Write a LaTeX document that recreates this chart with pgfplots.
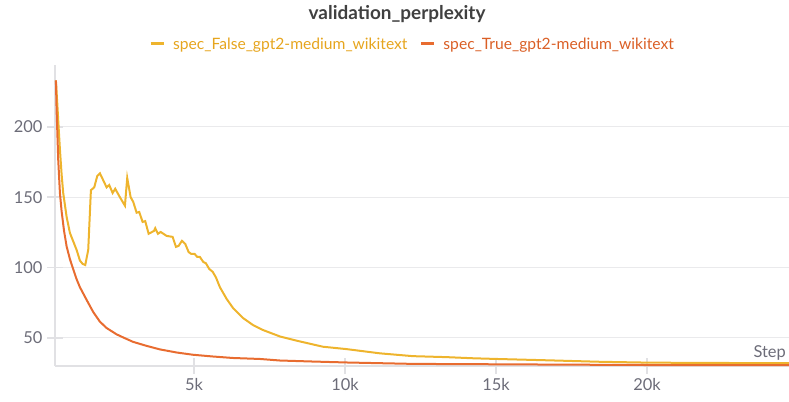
\documentclass[border=0pt]{standalone}
\usepackage{fontspec}
\setmainfont{Lato}
\usepackage{pgfplots}
\pgfplotsset{compat=1.18}

\definecolor{specF}{RGB}{238,180,45}
\definecolor{specT}{RGB}{232,108,48}
\definecolor{specFtxt}{RGB}{230,165,30}
\definecolor{specTtxt}{RGB}{218,95,38}
\definecolor{axgray}{RGB}{225,225,228}
\definecolor{ticktxt}{RGB}{108,108,120}

\begin{document}
\begin{tikzpicture}
\begin{axis}[
  name=main, scale only axis, width=734bp, height=301bp,
  xmin=400, xmax=24700, ymin=30, ymax=244,
  axis x line*=bottom, axis y line*=left,
  axis line style={axgray, line width=2.5bp, -},
  xtick={5000,10000,15000,20000}, xticklabels={5k,10k,15k,20k},
  scaled x ticks=false,
  ytick={50,100,150,200},
  tick align=center, major tick length=16bp,
  tick style={axgray, line width=1.5bp},
  ymajorgrids, grid style={axgray!70, line width=1bp},
  tick label style={font=\fontsize{16.5}{19}\selectfont, text=ticktxt},
  /pgf/number format/assume math mode=true,
  yticklabel style={xshift=-1bp},
  xticklabel style={yshift=-1bp},
  legend columns=2,
  legend style={draw=none, fill=none, at={(rel axis cs:0.487,1)}, anchor=center,
    yshift=21bp, font=\fontsize{15.7}{18}\selectfont,
    /tikz/every odd column/.append style={column sep=6bp},
    /tikz/every even column/.append style={column sep=10bp}},
  legend image code/.code={\draw[#1, line width=3bp] (0bp,0bp) -- (13bp,0bp);},
  clip=false,
]
\addplot[specF, line width=2bp] coordinates {
(430,233) (480,215) (530,196) (563,184) (620,166) (672,153) (785,136) (894,124.6) (1116,112.5)
(1225,105) (1314,102.6) (1401,101.8) (1500,112.5) (1589,155) (1699,157)
(1798,165) (1887,167) (2109,157) (2195,158.7) (2308,153) (2394,156)
(2549,150) (2715,144) (2791,163.7) (2904,150) (2990,146.7) (3102,139)
(3189,139.5) (3301,132.4) (3387,133) (3500,124) (3675,126) (3718,128)
(3808,124) (3897,125.3) (4096,122.5) (4294,121.8) (4404,114.7) (4493,115.4)
(4602,119) (4712,116.8) (4824,111) (4910,109.7) (5023,109.7) (5109,107.5)
(5198,107.5) (5308,104) (5397,103) (5506,99) (5619,97) (5728,93) (5860,86)
(6082,77.7) (6301,71) (6632,64) (6963,59) (7284,55.6) (7847,51) (8400,48)
(9271,43.7) (10056,42) (11158,39) (12251,37) (13366,36.3) (14237,35.5)
(15022,35) (16790,34) (18440,33) (20030,32.4) (21750,32.2) (24700,32.0)
};
\addlegendentry[text=specFtxt]{spec\_False\_gpt2-medium\_wikitext}
\addplot[specT, line width=2bp] coordinates {
(430,233) (453,212) (507,176.5) (563,153) (619,140) (700,126) (785,115)
(894,106) (1000,99) (1110,92) (1225,86) (1447,77) (1665,68.4) (1887,61.5)
(2109,57) (2440,52.5) (2659,50.3) (2980,47.2) (3433,44.3) (3874,41.8)
(4427,39.6) (4967,38) (5600,36.8) (6290,35.7) (7185,35) (7847,33.9)
(8900,33.2) (10056,32.5) (12251,31.5) (14237,31.3) (17000,31.0) (20000,30.7)
(24700,30.6)
};
\addlegendentry[text=specTtxt]{spec\_True\_gpt2-medium\_wikitext}
\node[anchor=south east, text=ticktxt, font=\fontsize{16.5}{19}\selectfont, inner sep=0pt]
  at ([xshift=-3bp, yshift=5bp]rel axis cs:1,0) {Step};
\node[text=black!75, font=\bfseries\fontsize{19}{22}\selectfont]
  at ([yshift=51bp]rel axis cs:0.466,1) {validation\_perplexity};
\end{axis}
\pgfresetboundingbox
\path ([xshift=-55bp, yshift=-36bp]main.south west) rectangle ++(789bp,402bp);
\end{tikzpicture}
\end{document}
